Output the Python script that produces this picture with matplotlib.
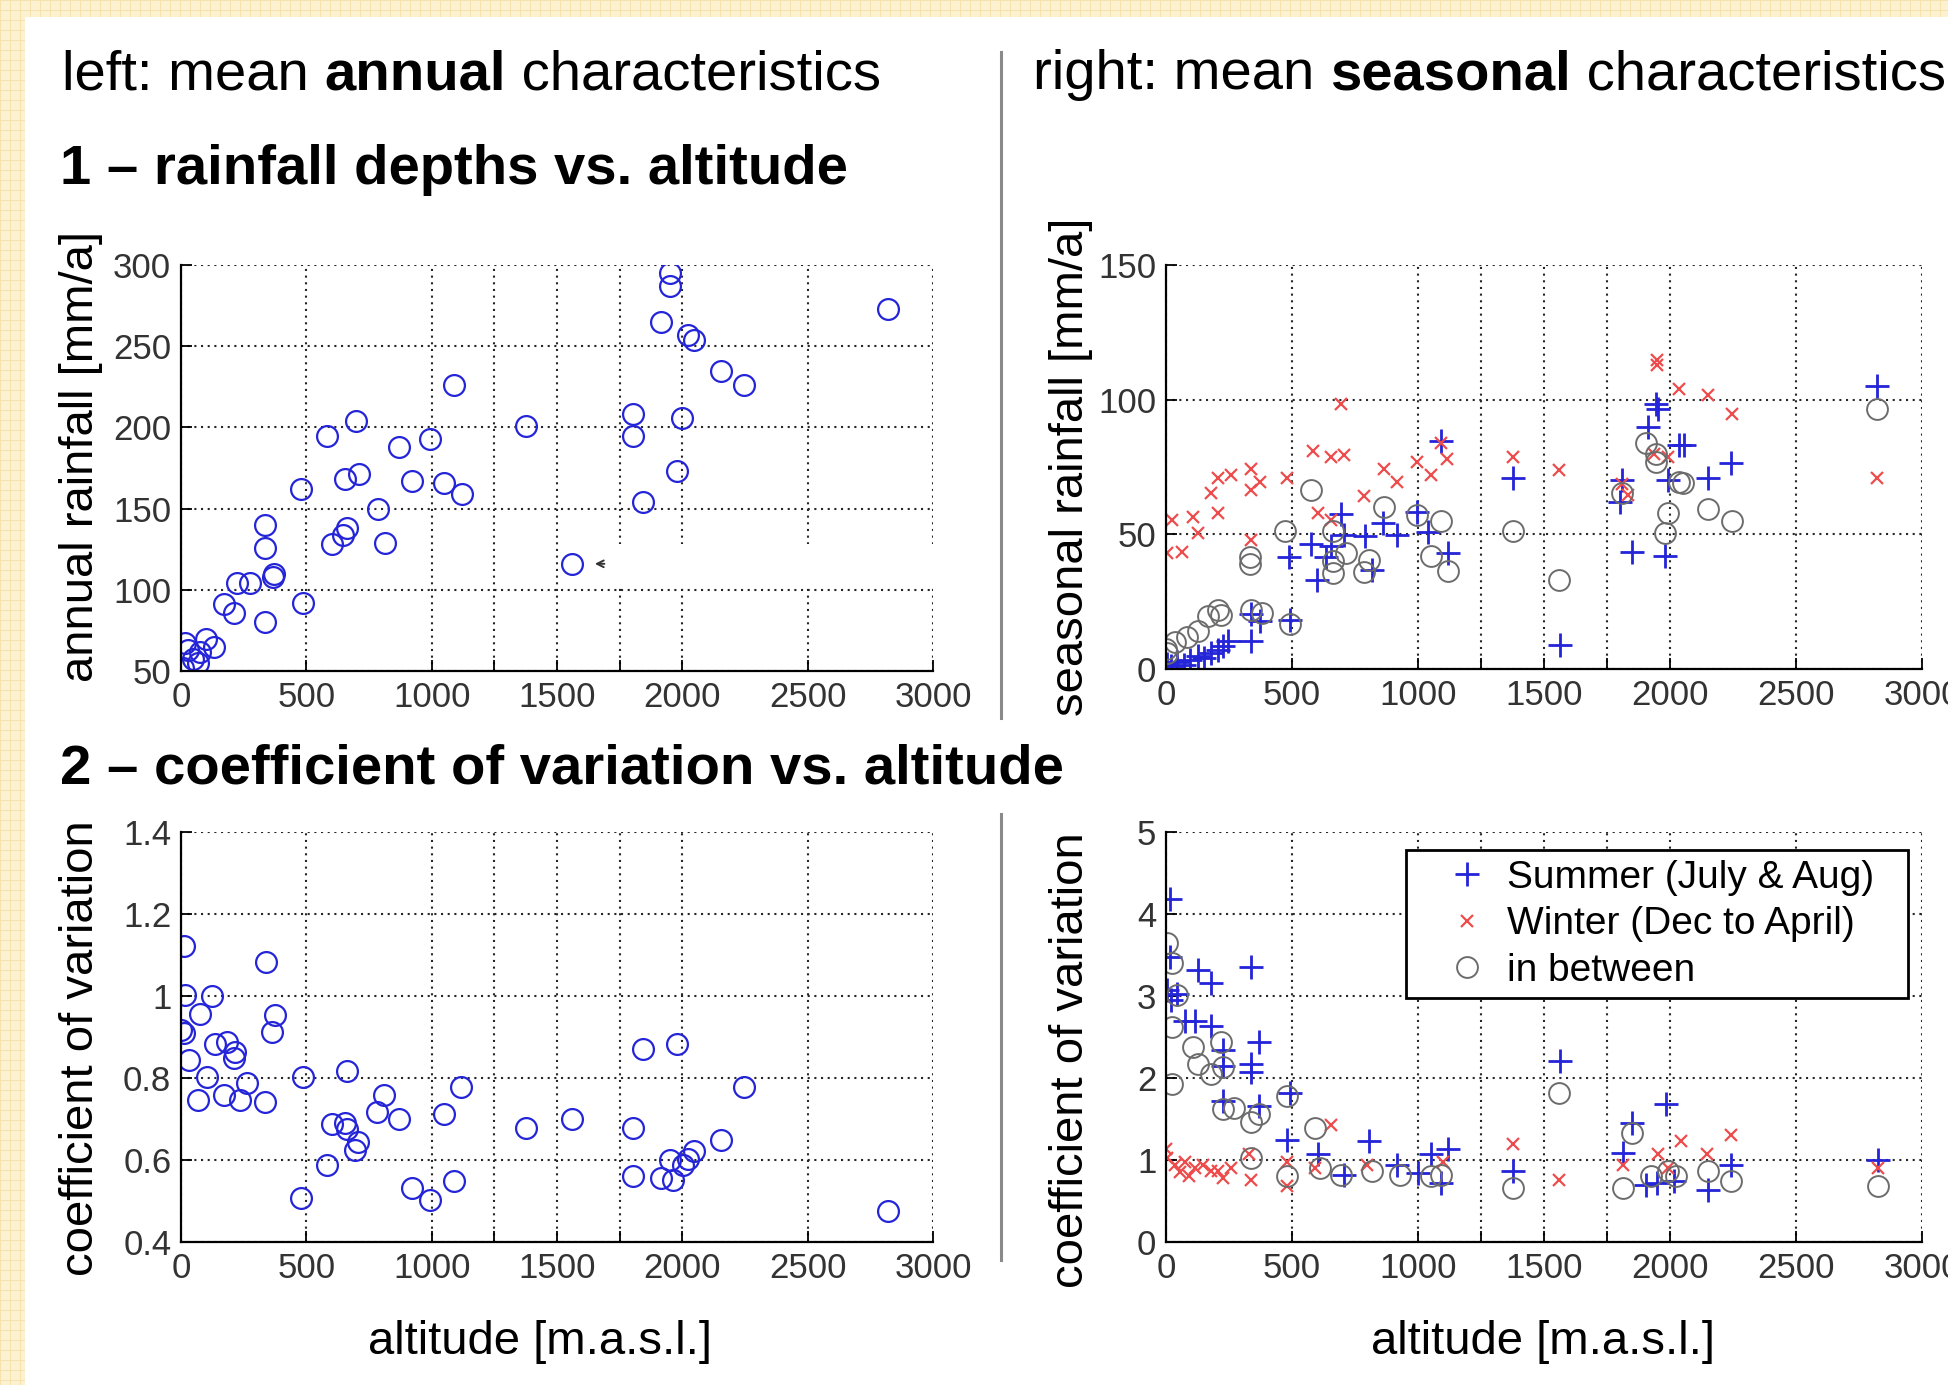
import matplotlib
matplotlib.use("Agg")
import matplotlib.pyplot as plt
from matplotlib.patches import Rectangle
from matplotlib.lines import Line2D
from matplotlib.legend_handler import HandlerLine2D

W, H = 1948, 1385

# ---- values ----
# 1: annual rainfall [mm/a] vs altitude
alt_annual = [1950, 1950, 2819, 1914, 2024, 2048, 2153, 2248, 1091, 1805,
              2000, 1376, 1805, 700, 584, 992, 869, 1980, 710, 656,
              920, 1048, 1123, 477, 1843, 785, 336, 662, 646, 602,
              813, 336, 1561, 372, 368, 225, 274, 171, 211, 485,
              336, 16, 99, 131, 76, 26, 66, 6, 46]
rain_annual = [295, 287, 273, 265, 257, 254, 235, 226, 226, 208,
               206, 201, 195, 204, 195, 193, 188, 173, 171, 168,
               167, 166, 159, 162, 154, 150, 140, 138, 134, 128,
               129, 126, 116, 110, 108, 104, 104, 91, 85.5, 92,
               80, 67, 70, 65, 61.5, 63, 55, 52, 57.5]

# 2: coefficient of variation (annual) vs altitude
alt_cv = [10, 338, 16, 125, 76, 0, 10, 374, 364, 135,
          185, 215, 211, 32, 105, 264, 485, 662, 1119, 2248,
          1845, 1980, 66, 171, 235, 334, 811, 781, 871, 1050,
          602, 656, 662, 708, 696, 1378, 1561, 1805, 2153, 584,
          477, 920, 994, 1089, 1805, 1914, 1950, 2004, 2024, 2048,
          1964, 2819]
cv_annual = [1.123, 1.082, 1.002, 1.001, 0.957, 0.918, 0.91, 0.953, 0.911, 0.882,
             0.889, 0.863, 0.849, 0.843, 0.802, 0.789, 0.802, 0.818, 0.777, 0.777,
             0.871, 0.882, 0.746, 0.758, 0.746, 0.742, 0.759, 0.718, 0.701, 0.711,
             0.689, 0.691, 0.675, 0.644, 0.625, 0.679, 0.701, 0.679, 0.648, 0.589,
             0.507, 0.531, 0.502, 0.548, 0.560, 0.557, 0.601, 0.589, 0.603, 0.621,
             0.552, 0.475]

# seasonal rainfall [mm/a]
alt_summer = [2821, 1944, 1954, 1913, 2035, 2055, 2244, 2151, 1994, 1375,
              1808, 1802, 1091, 995, 1040, 1121, 918, 861, 790, 816,
              695, 705, 577, 654, 634, 599, 487, 1848, 1980, 1562,
              491, 339, 374, 339, 248, 207, 4, 45, 95, 126,
              177, 227, 20, 70, 150]
rain_summer = [105, 98.4, 96.7, 90, 83.2, 83, 76.4, 70.8, 70, 71,
               70, 62, 84.7, 58.3, 51, 43, 49.7, 54.3, 49.2, 36.8,
               57.6, 49.7, 46.4, 45.6, 41.4, 32.9, 41.4, 43.6, 41.9, 8.9,
               18.3, 20.3, 18, 10.4, 10.4, 7.1, 1.8, 2.7, 3.5, 4.8,
               6, 8.4, 1.0, 1.5, 4.0]
alt_winter = [1948, 1948, 2035, 2151, 2248, 695, 583, 654, 705, 995,
              1115, 1050, 1375, 1558, 2821, 1994, 867, 918, 786, 481,
              339, 374, 339, 207, 258, 177, 207, 106, 24, 126,
              339, 4, 65, 603, 654, 1808, 1832, 1938, 1090]
rain_winter = [114.9, 113, 104, 101.7, 94.7, 98.4, 81, 78.6, 79.4, 76.9,
               78, 72, 78.6, 74, 71, 78.6, 74.4, 69.5, 64.2, 71,
               74.4, 69.5, 66.5, 71, 72, 65.4, 58, 56.3, 55.5, 50.5,
               48, 43, 43.6, 58, 55.5, 68.6, 64.5, 80, 84]
alt_between = [2821, 1903, 1944, 1944, 2035, 2050, 2151, 2248, 1994, 1980,
               1375, 1558, 1808, 577, 867, 995, 1091, 1050, 1121, 664,
               715, 664, 664, 786, 806, 471, 335, 335, 491, 339,
               380, 207, 217, 166, 126, 85, 35, 0, 4]
rain_between = [96.7, 84, 80, 77, 69.5, 69, 59.3, 55, 58, 50.5,
                51.3, 32.9, 65.4, 66.5, 60, 57, 55, 41.8, 36.5, 51.3,
                43, 40, 35.6, 36, 40.6, 51.3, 41.4, 39, 16.7, 22,
                20.8, 22, 20, 19.6, 14, 11.7, 10, 7.6, 6]

# seasonal coefficient of variation
alt_summer_cv = [14, 14, 4, 20, 45, 126, 177, 339, 75, 116,
                 177, 227, 227, 370, 339, 339, 491, 370, 227, 481,
                 603, 705, 806, 918, 999, 1050, 1121, 1091, 1375, 1562,
                 1812, 1848, 1984, 1903, 1950, 2015, 2151, 2244, 2827]
cv_summer = [4.18, 3.48, 3.07, 2.95, 3.03, 3.32, 3.16, 3.35, 2.7, 2.7,
             2.64, 2.34, 2.15, 2.44, 2.17, 2.07, 1.82, 1.66, 1.72, 1.25,
             1.07, 0.82, 1.23, 0.94, 0.84, 1.07, 1.13, 0.72, 0.86, 2.21,
             1.09, 1.45, 1.68, 0.70, 0.72, 0.74, 0.64, 0.94, 1.0]
alt_winter_cv = [0, 4, 35, 75, 116, 146, 177, 207, 227, 258,
                 339, 329, 481, 481, 654, 593, 798, 1101, 1375, 1558,
                 1812, 1954, 2045, 2147, 2244, 2827, 1994, 90, 55]
cv_winter = [1.13, 1.02, 0.94, 0.98, 0.9, 0.94, 0.86, 0.86, 0.78, 0.9,
             0.76, 1.07, 0.98, 0.68, 1.43, 0.9, 0.94, 0.98, 1.2, 0.76,
             0.94, 1.07, 1.23, 1.07, 1.31, 0.9, 0.9, 0.8, 0.85]
alt_between_cv = [4, 24, 45, 24, 106, 217, 126, 177, 227, 24,
                  227, 268, 370, 339, 481, 339, 481, 593, 613, 695,
                  816, 928, 1091, 1050, 1375, 1558, 1812, 1848, 1923, 1994,
                  2025, 2151, 2244, 2827]
cv_between = [3.65, 3.4, 3.01, 2.62, 2.38, 2.44, 2.17, 2.05, 2.13, 1.93,
              1.62, 1.64, 1.56, 1.46, 1.78, 1.02, 0.8, 1.39, 0.9, 0.82,
              0.86, 0.82, 0.82, 0.8, 0.66, 1.82, 0.66, 1.33, 0.8, 0.86,
              0.8, 0.86, 0.74, 0.68]

x_ticks = [0, 500, 1000, 1500, 2000, 2500, 3000]
series_labels = ["Summer (July & Aug)", "Winter (Dec to April)", "in between"]

plt.rcParams['font.family'] = ['Liberation Sans', 'DejaVu Sans']

BLUE = '#2424d8'
RED = '#ee4c4c'
GRAY = '#6c6c6c'
CREAM = '#fdf2cf'


def fx(px):
    return px / W


def fy(py):
    return 1 - py / H


def add_axes_px(fig, left, top, right, bottom):
    return fig.add_axes([fx(left), fy(bottom), (right - left) / W, (bottom - top) / H])


def style_axes(ax, ylim, yticks, ylabels):
    ax.set_xlim(0, 3000)
    ax.set_ylim(*ylim)
    ax.set_xticks(x_ticks)
    ax.set_xticklabels([str(v) for v in x_ticks])
    ax.set_xticks([1250, 1750], minor=True)
    ax.set_yticks(yticks)
    ax.set_yticklabels(ylabels)
    ax.grid(True, which='both', linestyle=(0, (1, 2.2)), color='#262626', linewidth=1.5)
    ax.set_axisbelow(True)
    for s in ('top', 'right'):
        ax.spines[s].set_visible(False)
    for s in ('left', 'bottom'):
        ax.spines[s].set_linewidth(1.6)
    ax.tick_params(which='both', direction='in', length=8, width=1.3,
                   labelsize=25, labelcolor='#333333', pad=7)


fig = plt.figure(figsize=(W / 100, H / 100), dpi=100, facecolor=CREAM)

# cream squared paper border + white sheet
for gx in range(0, W, 10):
    fig.add_artist(Line2D([fx(gx)] * 2, [0, 1], transform=fig.transFigure,
                          color='#f5e2ad', lw=0.7, zorder=-3))
for gy in range(0, H, 10):
    fig.add_artist(Line2D([0, 1], [fy(gy)] * 2, transform=fig.transFigure,
                          color='#f5e2ad', lw=0.7, zorder=-3))
fig.add_artist(Rectangle((fx(25), 0), 1, fy(17), transform=fig.transFigure,
                         facecolor='white', edgecolor='none', zorder=-2))

# separator
fig.add_artist(Line2D([fx(1001)] * 2, [fy(52), fy(718)], transform=fig.transFigure,
                      color='#8a8a8a', lw=2.2))
fig.add_artist(Line2D([fx(1001)] * 2, [fy(814), fy(1260)], transform=fig.transFigure,
                      color='#8a8a8a', lw=2.2))

renderer = fig.canvas.get_renderer()


def text_width(s, size, weight):
    t1 = fig.text(0, 0, s + '|', fontsize=size, fontweight=weight)
    t2 = fig.text(0, 0, '|', fontsize=size, fontweight=weight)
    w = t1.get_window_extent(renderer).width - t2.get_window_extent(renderer).width
    t1.remove()
    t2.remove()
    return w


def text_runs(x, y, parts, size):
    for s, weight in parts:
        fig.text(fx(x), fy(y), s, fontsize=size, fontweight=weight,
                 va='baseline', ha='left')
        x += text_width(s, size, weight)


TS = 40.5
text_runs(62, 89, [("left: mean ", 'normal'), ("annual", 'bold'),
                   (" characteristics", 'normal')], TS)
text_runs(1033, 89, [("right: mean ", 'normal'), ("seasonal", 'bold'),
                     (" characteristics", 'normal')], TS)
fig.text(fx(60), fy(184), "1 \u2013 rainfall depths vs. altitude", fontsize=TS,
         fontweight='bold', va='baseline')
fig.text(fx(60), fy(783), "2 \u2013 coefficient of variation vs. altitude", fontsize=TS,
         fontweight='bold', va='baseline')

LS = 34
fig.text(fx(540), fy(1354), "altitude [m.a.s.l.]", fontsize=LS, ha='center', va='baseline')
fig.text(fx(1543), fy(1354), "altitude [m.a.s.l.]", fontsize=LS, ha='center', va='baseline')
fig.text(fx(81), fy(456), "annual rainfall [mm/a]", fontsize=LS, rotation=90,
         ha='center', va='center')
fig.text(fx(1071), fy(467), "seasonal rainfall [mm/a]", fontsize=LS, rotation=90,
         ha='center', va='center')
fig.text(fx(81), fy(1048), "coefficient of variation", fontsize=LS, rotation=90,
         ha='center', va='center')
fig.text(fx(1071), fy(1060), "coefficient of variation", fontsize=LS, rotation=90,
         ha='center', va='center')

circ = dict(linestyle='none', marker='o', markersize=15, markerfacecolor='none',
            markeredgewidth=1.6)
plus = dict(linestyle='none', marker='+', markersize=17, markeredgewidth=2.0, color=BLUE)
cross = dict(linestyle='none', marker='x', markersize=9, markeredgewidth=1.6, color=RED)
gcirc = dict(linestyle='none', marker='o', markersize=15, markerfacecolor='none',
             markeredgewidth=1.4, markeredgecolor=GRAY)

# top left
ax1 = add_axes_px(fig, 181, 265, 933, 671)
ax1.plot(alt_annual, rain_annual, markeredgecolor=BLUE, **circ)
style_axes(ax1, (50, 300), [50, 100, 150, 200, 250, 300],
           ['50', '100', '150', '200', '250', '300'])
ax1.add_patch(Rectangle((1680, 101), 1500, 27, facecolor='white', edgecolor='none',
                        zorder=1.5, clip_on=False))
ax1.annotate('', xy=(1640, 116), xytext=(1700, 116),
             arrowprops=dict(arrowstyle='->', color='#333333', lw=1.4, mutation_scale=12))

# top right
ax2 = add_axes_px(fig, 1166, 265, 1922, 669)
ax2.plot(alt_summer, rain_summer, **plus)
ax2.plot(alt_winter, rain_winter, **cross)
ax2.plot(alt_between, rain_between, **gcirc)
style_axes(ax2, (0, 150), [0, 50, 100, 150], ['0', '50', '100', '150'])

# bottom left
ax3 = add_axes_px(fig, 181, 832, 933, 1242)
ax3.plot(alt_cv, cv_annual, markeredgecolor=BLUE, **circ)
style_axes(ax3, (0.4, 1.4), [0.4, 0.6, 0.8, 1.0, 1.2, 1.4],
           ['0.4', '0.6', '0.8', '1', '1.2', '1.4'])

# bottom right
ax4 = add_axes_px(fig, 1166, 832, 1922, 1242)
h1, = ax4.plot(alt_summer_cv, cv_summer, **plus)
h2, = ax4.plot(alt_winter_cv, cv_winter, **cross)
h3, = ax4.plot(alt_between_cv, cv_between, **gcirc)
style_axes(ax4, (0, 5), [0, 1, 2, 3, 4, 5], ['0', '1', '2', '3', '4', '5'])
shifted = HandlerLine2D(xpad=0.47)
leg = ax4.legend([h1, h2, h3], series_labels, loc='upper left',
                 bbox_to_anchor=(0.317, 0.59, 0.664, 0.366), mode='expand',
                 borderaxespad=0, fontsize=28,
                 frameon=True, fancybox=False, framealpha=1, edgecolor='black',
                 borderpad=0.25, labelspacing=0.27, handlelength=2.2,
                 handletextpad=0.15,
                 handler_map={h1: shifted, h2: shifted, h3: shifted})
leg.get_frame().set_linewidth(2)

fig.savefig('out.png', dpi=100, facecolor=CREAM)
